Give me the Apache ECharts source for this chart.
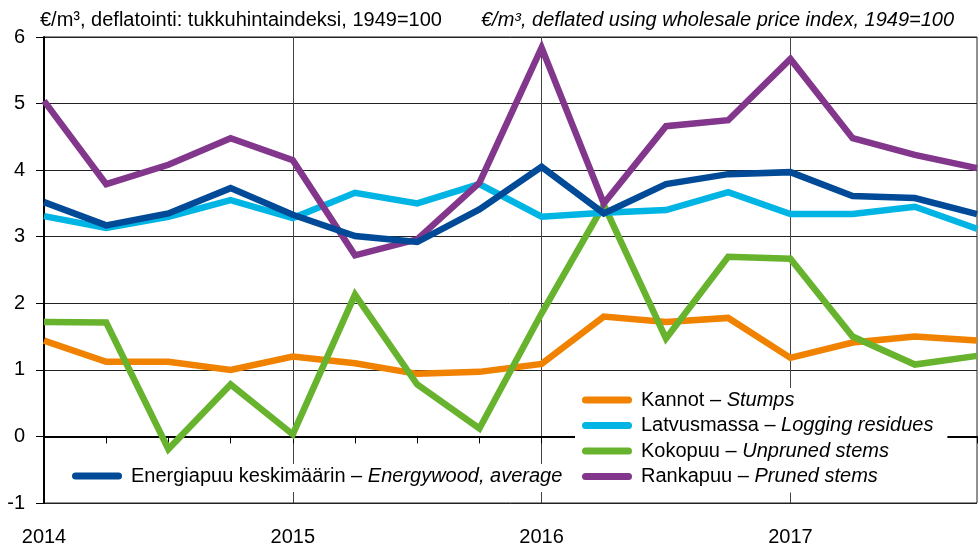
<!DOCTYPE html>
<html>
<head>
<meta charset="utf-8">
<script src="https://cdn.jsdelivr.net/npm/echarts@6/dist/echarts.min.js"></script>
<style>
  html, body { margin: 0; padding: 0; background: #fff; }
  #chart { width: 979px; height: 553px; }
</style>
</head>
<body>
<div id="chart"></div>
<script>
// quarterly, 2014Q1 .. 2017Q4
const quarters = ['2014Q1','2014Q2','2014Q3','2014Q4','2015Q1','2015Q2','2015Q3','2015Q4',
                  '2016Q1','2016Q2','2016Q3','2016Q4','2017Q1','2017Q2','2017Q3','2017Q4']
const kannot      = [1.44, 1.12, 1.12, 1.00, 1.20, 1.10, 0.94, 0.97, 1.09, 1.80, 1.72, 1.78, 1.18, 1.41, 1.50, 1.44]
const latvusmassa = [3.31, 3.13, 3.30, 3.55, 3.28, 3.66, 3.50, 3.79, 3.30, 3.36, 3.40, 3.67, 3.34, 3.34, 3.45, 3.12]
const kokopuu     = [1.72, 1.71, -0.19, 0.78, 0.03, 2.13, 0.78, 0.12, 1.85, 3.48, 1.47, 2.70, 2.67, 1.50, 1.08, 1.21]
const rankapuu    = [5.04, 3.79, 4.08, 4.48, 4.15, 2.72, 2.96, 3.81, 5.84, 3.50, 4.66, 4.75, 5.67, 4.48, 4.23, 4.03]
const energiapuu  = [3.52, 3.17, 3.35, 3.73, 3.33, 3.01, 2.92, 3.41, 4.05, 3.35, 3.79, 3.94, 3.97, 3.61, 3.58, 3.34]
const yTicks = [-1, 0, 1, 2, 3, 4, 5, 6]

const FONT = '"Liberation Sans", Arial, sans-serif'
const names = {
    kannot: 'Kannot – Stumps',
    latvus: 'Latvusmassa – Logging residues',
    koko:   'Kokopuu – Unpruned stems',
    ranka:  'Rankapuu – Pruned stems',
    energia:'Energiapuu keskimäärin – Energywood, average'
}
// rounded bar used as legend key
const KEY = 'path://M3.5,0 H46.5 A3.5,3.5 0 0 1 46.5,7 H3.5 A3.5,3.5 0 0 1 3.5,0 Z'

function line (name, data, color) {
    return {
        name, type: 'line', data,
        symbol: 'none', smooth: false,
        lineStyle: { width: 6.5, color, join: 'miter', cap: 'butt' },
        itemStyle: { color },
        emphasis: { disabled: true }
    }
}

// "Fi – En" with the english part in italics
function legendText (n) {
    const i = n.indexOf(' – ')
    return '{n|' + n.slice(0, i + 3) + '}{i|' + n.slice(i + 3) + '}'
}
const legendRich = {
    n: { fontFamily: FONT, fontSize: 20, color: '#000' },
    i: { fontFamily: FONT, fontSize: 20, color: '#000', fontStyle: 'italic' }
}

const chart = echarts.init(document.getElementById('chart'), null, { renderer: 'canvas' })
chart.setOption({
    animation: false,
    backgroundColor: '#fff',
    title: [
        { text: '€/m³, deflatointi: tukkuhintaindeksi, 1949=100', left: 35, top: 5,
          textStyle: { fontFamily: FONT, fontSize: 20, fontWeight: 'normal', color: '#000' } },
        { text: '€/m³, deflated using wholesale price index, 1949=100', left: 476, top: 5,
          textStyle: { fontFamily: FONT, fontSize: 20, fontWeight: 'normal', fontStyle: 'italic', color: '#000' } }
    ],
    grid: { left: 44, right: 2, top: 37, bottom: 50, show: true, borderColor: '#222', borderWidth: 1, containLabel: false },
    xAxis: {
        type: 'category',
        data: quarters,
        boundaryGap: false,
        axisLine: { lineStyle: { color: '#000', width: 2 } },
        axisTick: { show: true, interval: 0, length: 7, lineStyle: { color: '#000', width: 1 } },
        axisLabel: {
            interval: (i) => i % 4 === 0,
            formatter: (v) => v.slice(0, 4),
            fontFamily: FONT, fontSize: 20, color: '#000', margin: 24
        },
        splitLine: { show: true, interval: (i) => i % 4 === 0, lineStyle: { color: '#444', width: 1 } }
    },
    yAxis: {
        type: 'value',
        min: yTicks[0], max: yTicks[yTicks.length - 1], interval: 1,
        axisLine: { show: true, lineStyle: { color: '#000', width: 2 } },
        axisTick: { show: true, length: 8, lineStyle: { color: '#000' } },
        axisLabel: { fontFamily: FONT, fontSize: 20, color: '#000', margin: 19 },
        splitLine: { show: true, lineStyle: { color: '#222', width: 1 } }
    },
    legend: [
        {
            data: [names.kannot, names.latvus, names.koko, names.ranka],
            orient: 'vertical', left: 575, top: 388,
            padding: [0, 14, 4, 7],
            itemGap: 1.5, itemWidth: 50, itemHeight: 7,
            icon: KEY,
            backgroundColor: '#fff',
            formatter: legendText,
            textStyle: { lineHeight: 24, padding: [0, 0, 0, 4], rich: legendRich }
        },
        {
            data: [names.energia],
            orient: 'horizontal', left: 60, top: 464,
            padding: [0, 8, 4, 12],
            itemWidth: 50, itemHeight: 7,
            icon: KEY,
            backgroundColor: '#fff',
            formatter: legendText,
            textStyle: { lineHeight: 24, padding: [0, 0, 0, 4], rich: legendRich }
        }
    ],
    series: [
        line(names.kannot, kannot, '#f08200'),
        line(names.koko, kokopuu, '#67b32e'),
        line(names.latvus, latvusmassa, '#00b5e4'),
        line(names.ranka, rankapuu, '#82378c'),
        line(names.energia, energiapuu, '#004a98')
    ]
})
</script>
</body>
</html>
